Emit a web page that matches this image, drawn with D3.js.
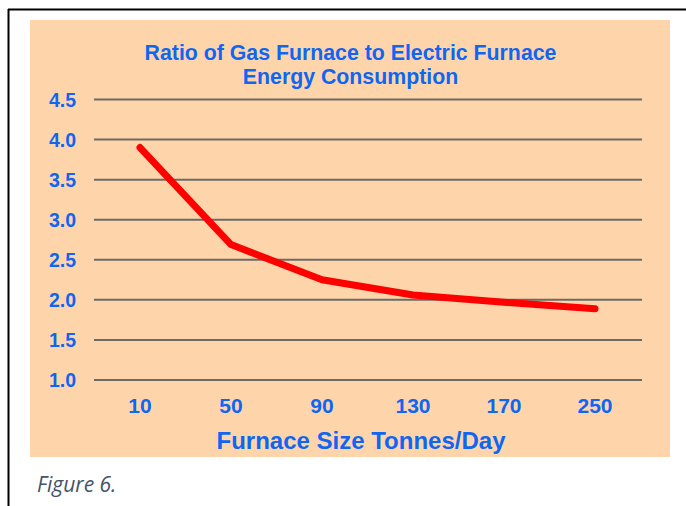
<!DOCTYPE html>
<html><head><meta charset="utf-8">
<script src="https://cdn.jsdelivr.net/npm/d3@7"></script>
<style>body{margin:0;background:#fff;}svg{display:block;}</style>
</head><body>
<svg id="c" width="686" height="506"></svg>
<script>
const categories = ["10", "50", "90", "130", "170", "250"];
const ratioValues = [3.90, 2.69, 2.25, 2.06, 1.97, 1.89];
const yTicks = [1.0, 1.5, 2.0, 2.5, 3.0, 3.5, 4.0, 4.5];
const titleLines = ["Ratio of Gas Furnace to Electric Furnace", "Energy Consumption"];
const xTitle = "Furnace Size Tonnes/Day";
const caption = "Figure 6.";

const svg = d3.select("#c");
const blue = "#0f66f2";
const fontF = "'Liberation Sans', Arial, sans-serif";

// page frame
svg.append("line").attr("x1",8.5).attr("x2",8.5).attr("y1",9).attr("y2",506).attr("stroke","#000").attr("stroke-width",2);
svg.append("line").attr("x1",8).attr("x2",686).attr("y1",9.5).attr("y2",9.5).attr("stroke","#000").attr("stroke-width",2);

// chart area
svg.append("rect").attr("x",30).attr("y",20).attr("width",640).attr("height",437).attr("fill","#fed5ab");

const x = d3.scalePoint().domain(categories).range([140, 595]);
const y = d3.scaleLinear().domain([1.0, 4.5]).range([380, 99.5]);

// gridlines
svg.append("g").selectAll("line").data(yTicks).join("line")
  .attr("x1",94).attr("x2",642)
  .attr("y1",d=>y(d)).attr("y2",d=>y(d))
  .attr("stroke","#6d6a66").attr("stroke-width",2);

// y labels
svg.append("g").selectAll("text").data(yTicks).join("text")
  .attr("x",76).attr("y",d=>y(d)).attr("dy","0.36em")
  .attr("text-anchor","end").attr("font-family",fontF).attr("font-weight","bold")
  .attr("font-size",19.5).attr("fill",blue).text(d=>d.toFixed(1));

// x labels
svg.append("g").selectAll("text").data(categories).join("text")
  .attr("x",d=>x(d)).attr("y",405).attr("dy","0.36em")
  .attr("text-anchor","middle").attr("font-family",fontF).attr("font-weight","bold")
  .attr("font-size",21).attr("fill",blue).text(d=>d);

// line
const line = d3.line().x((d,i)=>x(categories[i])).y(d=>y(d));
svg.append("path").datum(ratioValues).attr("d",line)
  .attr("fill","none").attr("stroke","#ff0000").attr("stroke-width",7)
  .attr("stroke-linecap","round").attr("stroke-linejoin","round");

// title
svg.append("g").selectAll("text").data(titleLines).join("text")
  .attr("x",350.5).attr("y",(d,i)=>52+i*24).attr("dy","0.36em")
  .attr("text-anchor","middle").attr("font-family",fontF).attr("font-weight","bold")
  .attr("font-size",21.3).attr("fill",blue).text(d=>d);

// x axis title
svg.append("text").attr("x",361).attr("y",440).attr("dy","0.36em")
  .attr("text-anchor","middle").attr("font-family",fontF).attr("font-weight","bold")
  .attr("font-size",24).attr("fill",blue).text(xTitle);

// caption
svg.append("text").attr("x",37).attr("y",492)
  .attr("font-family","'Open Sans', sans-serif").attr("font-style","italic")
  .attr("font-size",21).attr("fill","#44546a").text(caption);
</script>
</body></html>
